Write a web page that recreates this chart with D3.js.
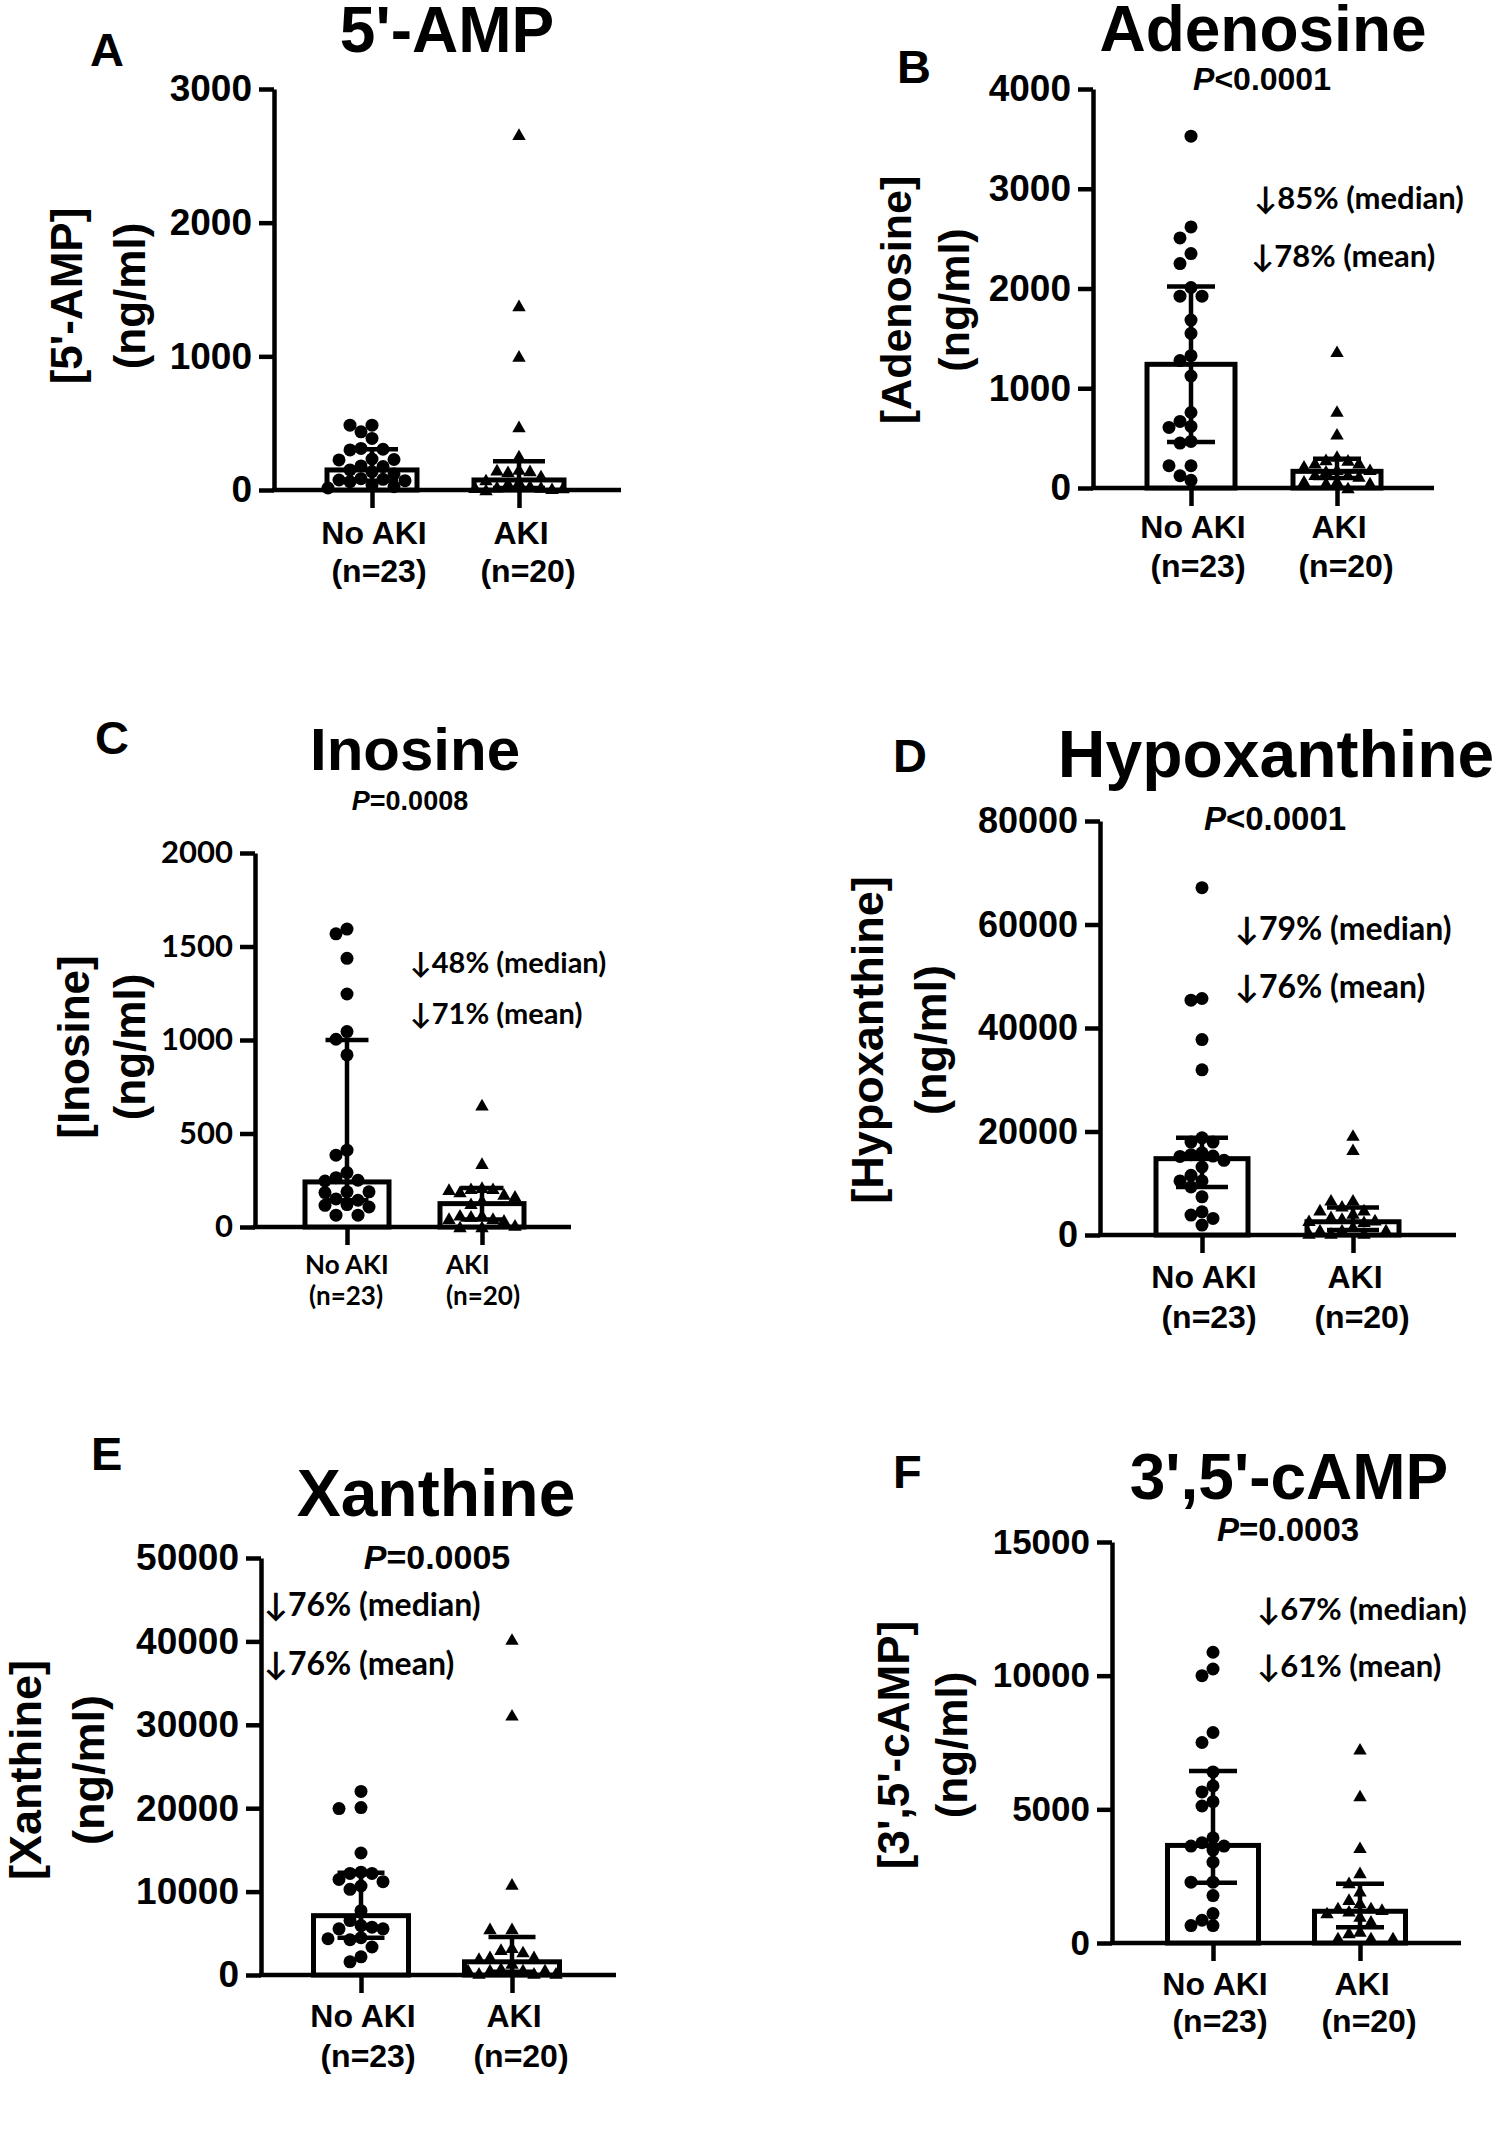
<!DOCTYPE html>
<html><head><meta charset="utf-8">
<script src="https://cdn.jsdelivr.net/npm/d3@7"></script>
<style>body{margin:0;background:#fff} svg{display:block}</style>
</head><body>
<svg id="chart" width="1498" height="2137"></svg>
<script>
// ---------------- DATA ----------------
const groups = ["No AKI", "AKI"];
const groupNs = ["(n=23)", "(n=20)"];
const titles = ["5'-AMP", "Adenosine", "Inosine", "Hypoxanthine", "Xanthine", "3',5'-cAMP"];
const yLabels = ["[5'-AMP]", "[Adenosine]", "[Inosine]", "[Hypoxanthine]", "[Xanthine]", "[3',5'-cAMP]"];
const yUnit = "(ng/ml)";
const panelLetters = ["A", "B", "C", "D", "E", "F"];
const pValues = [null, "<0.0001", "=0.0008", "<0.0001", "=0.0005", "=0.0003"];
const medianDrops = [null, "85%", "48%", "79%", "76%", "67%"];
const meanDrops = [null, "78%", "71%", "76%", "76%", "61%"];

// A: 5'-AMP
const ampTicks = [0, 1000, 2000, 3000];
const ampNoAki = [485, 485, 435, 386, 311, 305, 300, 232, 228, 225, 180, 175, 150, 137, 120, 85, 80, 75, 70, 62, 37, 25, 15];
const ampAki = [2659, 1378, 1000, 473, 254, 154, 149, 144, 137, 105, 75, 60, 50, 30, 22, 20, 18, 15, 10, 0];
const ampMedian = [150, 75], ampQ1 = [70, 15], ampQ3 = [304, 216];

// B: Adenosine
const adoTicks = [0, 1000, 2000, 3000, 4000];
const adoNoAki = [3527, 2617, 2507, 2350, 2250, 2010, 1923, 1923, 1683, 1550, 1327, 1277, 1123, 757, 667, 617, 607, 467, 450, 223, 223, 123, 77];
const adoAki = [1367, 767, 540, 317, 283, 277, 250, 250, 217, 183, 183, 167, 133, 133, 117, 67, 67, 50, 50, 0];
const adoMedian = [1240, 167], adoQ1 = [460, 100], adoQ3 = [2020, 293];

// C: Inosine
const inoTicks = [0, 500, 1000, 1500, 2000];
const inoNoAki = [1593, 1568, 1437, 1246, 1045, 1004, 920, 411, 384, 291, 264, 250, 246, 188, 188, 184, 150, 143, 120, 116, 107, 63, 63];
const inoAki = [652, 339, 211, 205, 205, 200, 188, 175, 164, 143, 125, 63, 63, 57, 45, 45, 36, 9, 0, 0];
const inoMedian = [241, 125], inoQ1 = [143, 40], inoQ3 = [1000, 209];

// D: Hypoxanthine
const hypTicks = [0, 20000, 40000, 60000, 80000];
const hypNoAki = [67115, 45705, 45385, 37756, 31923, 18782, 17949, 17949, 15897, 15513, 15256, 15192, 14423, 13141, 11538, 10449, 10449, 9295, 7372, 4487, 3846, 3205, 1923];
const hypAki = [19231, 16474, 6730, 6730, 5577, 4808, 4808, 4167, 3526, 3205, 2885, 2756, 2564, 1603, 962, 962, 962, 320, 320, 320];
const hypMedian = [14750, 2560], hypQ1 = [9290, 960], hypQ3 = [18790, 5320];

// E: Xanthine
const xanTicks = [0, 10000, 20000, 30000, 40000, 50000];
const xanNoAki = [22016, 20079, 19960, 14625, 12332, 12174, 12174, 11462, 11186, 10672, 10277, 7708, 6522, 5929, 5731, 5534, 5534, 4466, 4348, 4229, 3360, 2174, 1581];
const xanAki = [40237, 31146, 10870, 5534, 5534, 3281, 3043, 2767, 2174, 2174, 1976, 1383, 790, 593, 593, 593, 593, 198, 198, 198];
const xanMedian = [7115, 1581], xanQ1 = [4466, 400], xanQ3 = [12253, 4545];

// F: 3',5'-cAMP
const campTicks = [0, 5000, 10000, 15000];
const campNoAki = [10875, 10250, 10000, 7875, 7500, 6400, 5875, 5650, 5288, 5125, 3938, 3750, 3625, 3625, 3475, 3025, 2275, 2275, 1775, 1100, 850, 650, 650];
const campAki = [7250, 5500, 3563, 2625, 2250, 1938, 1625, 1500, 1313, 1313, 1250, 1188, 1125, 1000, 813, 438, 375, 188, 188, 188];
const campMedian = [3650, 1187], campQ1 = [2250, 587], campQ3 = [6437, 2212];

// ---------------- LAYOUT ----------------
const ARIAL = "'Liberation Sans', Arial, Helvetica, sans-serif";
const CAL = "Lato, 'Open Sans', sans-serif";

const layouts = [
  {axisX:274, yTop:89, yZero:490, cats:[372,519], xEnd:621, barW:90, capW:52, tickFont:37, tickFam:ARIAL,
   ylabX:[67,130], ylabY:296, ylabFont:44, ylabFam:ARIAL,
   catBase:[544,582], catFont:32, catFam:ARIAL, catAnchor:"middle", catDx:[[2,7],[2,9]],
   title:[447,52,64], letter:[90,66], p:null, ann:null},
  {axisX:1093, yTop:89, yZero:488, cats:[1191,1337], xEnd:1434, barW:88, capW:48, tickFont:37, tickFam:ARIAL,
   ylabX:[896,954], ylabY:300, ylabFont:43, ylabFam:ARIAL,
   catBase:[538,577], catFont:32, catFam:ARIAL, catAnchor:"middle", catDx:[[2,7],[2,9]],
   title:[1263,51,64], letter:[897,83], p:[1262,90,32], ann:{x1:1254,y1:209,x2:1251,y2:267,font:31}},
  {axisX:255, yTop:853, yZero:1227, cats:[347,482], xEnd:571, barW:84, capW:43, tickFont:31, tickFam:CAL,
   ylabX:[74,130], ylabY:1047, ylabFont:44, ylabFam:ARIAL,
   catBase:[1274,1305], catFont:26, catFam:CAL, catAnchor:"start", catDx:[[-42,-38],[-36,-36]],
   title:[415,770,60], letter:[95,754], p:[410,810,27], ann:{x1:410,y1:973,x2:410,y2:1024,font:29}},
  {axisX:1100, yTop:821, yZero:1235, cats:[1202,1353], xEnd:1456, barW:92, capW:52, tickFont:36, tickFam:ARIAL,
   ylabX:[867,930], ylabY:1040, ylabFont:45, ylabFam:ARIAL,
   catBase:[1288,1328], catFont:32, catFam:ARIAL, catAnchor:"middle", catDx:[[2,7],[2,9]],
   title:[1276,777,66], letter:[893,772], p:[1275,830,33], ann:{x1:1235,y1:940,x2:1235,y2:998,font:32}},
  {axisX:261, yTop:1558, yZero:1975, cats:[361,512], xEnd:616, barW:95, capW:47, tickFont:37, tickFam:ARIAL,
   ylabX:[25,88], ylabY:1770, ylabFont:45, ylabFam:ARIAL,
   catBase:[2027,2067], catFont:32, catFam:ARIAL, catAnchor:"middle", catDx:[[2,7],[2,9]],
   title:[436,1516,66], letter:[91,1470], p:[437,1569,34], ann:{x1:264,y1:1616,x2:264,y2:1675,font:32}},
  {axisX:1112, yTop:1542, yZero:1943, cats:[1213,1360], xEnd:1461, barW:91, capW:48, tickFont:35, tickFam:ARIAL,
   ylabX:[894,952], ylabY:1745, ylabFont:44, ylabFam:ARIAL,
   catBase:[1995,2032], catFont:32, catFam:ARIAL, catAnchor:"middle", catDx:[[2,7],[2,9]],
   title:[1289,1499,64], letter:[893,1488], p:[1288,1541,33], ann:{x1:1257,y1:1620,x2:1257,y2:1677,font:31}}
];

const panelData = [
  {no:ampNoAki, aki:ampAki, med:ampMedian, q1:ampQ1, q3:ampQ3, ticks:ampTicks},
  {no:adoNoAki, aki:adoAki, med:adoMedian, q1:adoQ1, q3:adoQ3, ticks:adoTicks},
  {no:inoNoAki, aki:inoAki, med:inoMedian, q1:inoQ1, q3:inoQ3, ticks:inoTicks},
  {no:hypNoAki, aki:hypAki, med:hypMedian, q1:hypQ1, q3:hypQ3, ticks:hypTicks},
  {no:xanNoAki, aki:xanAki, med:xanMedian, q1:xanQ1, q3:xanQ3, ticks:xanTicks},
  {no:campNoAki, aki:campAki, med:campMedian, q1:campQ1, q3:campQ3, ticks:campTicks}
];

const svg = d3.select("#chart");
const R = 6.5, STEP = 11, MAXK = 4;
const triangle = d3.symbol().type(d3.symbolTriangle).size(78);

// simple beeswarm: spread overlapping points sideways, kept within the bar
function swarm(values, y, cx) {
  const pts = values.map(v => ({v, y: y(v)})).sort((a, b) => a.y - b.y);
  const placed = [];
  const cands = [0];
  for (let k = 1; k <= MAXK; k++) { cands.push(-k, k); }
  for (const p of pts) {
    let best = null, bestD = -1;
    for (const k of cands) {
      const x = cx + k * STEP;
      const dmin = placed.length ? d3.min(placed, q => Math.hypot(q.x - x, q.y - p.y)) : Infinity;
      if (dmin >= 2 * R * 0.85) { best = x; break; }
      if (dmin > bestD) { bestD = dmin; best = x; }
    }
    p.x = best;
    placed.push(p);
  }
  return placed;
}

panelData.forEach((d, i) => {
  const L = layouts[i];
  const g = svg.append("g");
  const y = d3.scaleLinear().domain([0, d3.max(d.ticks)]).range([L.yZero, L.yTop]);
  const x = d3.scalePoint().domain(groups).range(L.cats);

  // y axis
  const ya = g.append("g").attr("transform", `translate(${L.axisX},0)`)
    .call(d3.axisLeft(y).tickValues(d.ticks).tickFormat(d3.format("d")).tickSize(15).tickSizeOuter(0).tickPadding(7));
  ya.select(".domain").attr("stroke", "#000").attr("stroke-width", 4.5);
  ya.selectAll(".tick line").attr("stroke", "#000").attr("stroke-width", 4.5);
  ya.selectAll(".tick text").attr("fill", "#000").style("font-family", L.tickFam)
    .style("font-weight", "bold").style("font-size", L.tickFont + "px");

  // x axis baseline + category ticks
  g.append("line").attr("x1", L.axisX - 2).attr("x2", L.xEnd).attr("y1", L.yZero).attr("y2", L.yZero)
    .attr("stroke", "#000").attr("stroke-width", 4.5);
  const xa = g.append("g").attr("transform", `translate(0,${L.yZero})`)
    .call(d3.axisBottom(x).tickSize(18).tickFormat(""));
  xa.select(".domain").remove();
  xa.selectAll(".tick line").attr("stroke", "#000").attr("stroke-width", 4.5);

  // bars (median)
  g.selectAll("rect.bar").data(groups).join("rect").attr("class", "bar")
    .attr("x", k => x(k) - L.barW / 2).attr("width", L.barW)
    .attr("y", (k, j) => y(d.med[j])).attr("height", (k, j) => L.yZero - y(d.med[j]))
    .attr("fill", "#fff").attr("stroke", "#000").attr("stroke-width", 5);

  // error bars (IQR)
  groups.forEach((k, j) => {
    const cx = x(k);
    g.append("line").attr("x1", cx).attr("x2", cx).attr("y1", y(d.q1[j])).attr("y2", y(d.q3[j]))
      .attr("stroke", "#000").attr("stroke-width", 4.5);
    [d.q1[j], d.q3[j]].forEach(v => {
      g.append("line").attr("x1", cx - L.capW / 2).attr("x2", cx + L.capW / 2).attr("y1", y(v)).attr("y2", y(v))
        .attr("stroke", "#000").attr("stroke-width", 4.5);
    });
  });

  // points
  const circ = swarm(d.no, y, x(groups[0]));
  g.selectAll("circle.pt").data(circ).join("circle").attr("class", "pt")
    .attr("cx", p => p.x).attr("cy", p => p.y).attr("r", R).attr("fill", "#000");
  const tri = swarm(d.aki, y, x(groups[1]));
  g.selectAll("path.pt").data(tri).join("path").attr("class", "pt")
    .attr("d", triangle).attr("transform", p => `translate(${p.x},${p.y + 1.5})`).attr("fill", "#000");

  // category labels
  groups.forEach((k, j) => {
    [k, groupNs[j]].forEach((t, li) => {
      g.append("text").attr("x", x(k) + L.catDx[j][li]).attr("y", L.catBase[li])
        .attr("text-anchor", L.catAnchor).style("font-family", L.catFam).style("font-weight", "bold")
        .style("font-size", L.catFont + "px").attr("fill", "#000").text(t);
    });
  });

  // y label (two lines, rotated)
  [yLabels[i], yUnit].forEach((t, li) => {
    g.append("text").attr("transform", `translate(${L.ylabX[li]},${L.ylabY}) rotate(-90)`)
      .attr("dy", "0.35em").attr("text-anchor", "middle").style("font-family", L.ylabFam)
      .style("font-weight", "bold").style("font-size", L.ylabFont + "px").attr("fill", "#000").text(t);
  });

  // title
  g.append("text").attr("x", L.title[0]).attr("y", L.title[1]).attr("text-anchor", "middle")
    .style("font-family", ARIAL).style("font-weight", "bold").style("font-size", L.title[2] + "px").text(titles[i]);
  // panel letter
  g.append("text").attr("x", L.letter[0]).attr("y", L.letter[1])
    .style("font-family", ARIAL).style("font-weight", "bold").style("font-size", "47px").text(panelLetters[i]);

  // p-value
  if (pValues[i]) {
    const pt = g.append("text").attr("x", L.p[0]).attr("y", L.p[1]).attr("text-anchor", "middle")
      .style("font-family", ARIAL).style("font-weight", "bold").style("font-size", L.p[2] + "px");
    pt.append("tspan").style("font-style", "italic").text("P");
    pt.append("tspan").text(pValues[i]);
  }
  // reductions
  if (medianDrops[i]) {
    const a = L.ann;
    [["↓" + medianDrops[i] + " (median)", a.x1, a.y1], ["↓" + meanDrops[i] + " (mean)", a.x2, a.y2]].forEach(([t, tx, ty]) => {
      g.append("text").attr("x", tx).attr("y", ty).style("font-family", CAL).style("font-weight", "bold")
        .style("font-size", a.font + "px").attr("fill", "#000").text(t);
    });
  }
});
</script>
</body></html>
